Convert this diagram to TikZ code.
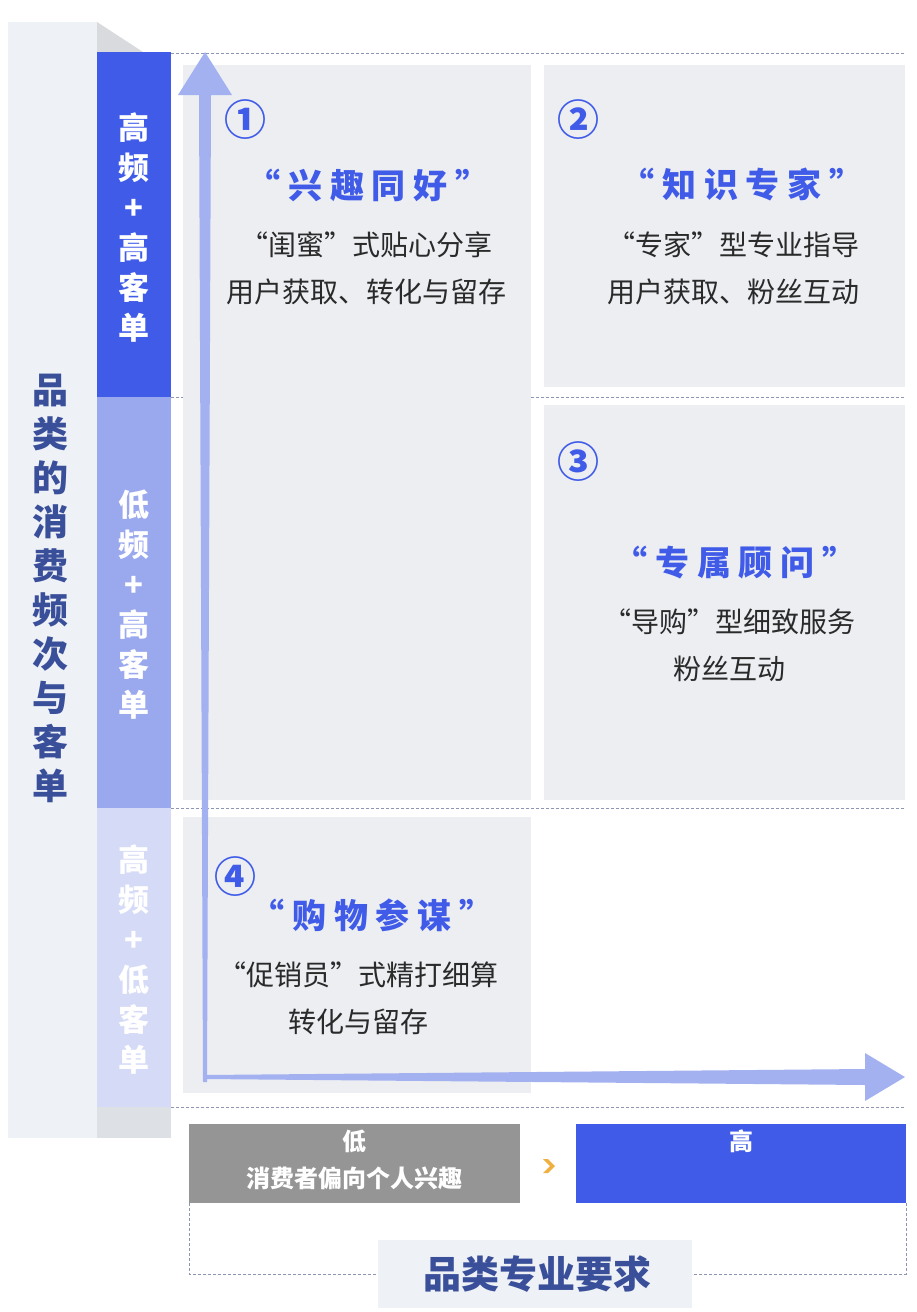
\documentclass[tikz,border=0pt]{standalone}
\usepackage{fontspec}
\setmainfont{Noto Sans CJK SC}
\begin{document}
\begin{tikzpicture}[x=1pt,y=-1pt,
  quad/.style={fill=qgray,draw=none},
  dline/.style={draw=dgray,dash pattern=on 3pt off 2pt,line width=1pt},
  ttl/.style={font=\fontsize{34}{38}\selectfont\bfseries,text=mblue},
  num/.style={font=\fontsize{42}{44}\selectfont\bfseries,text=mblue},
  body/.style={font=\fontsize{28}{47}\selectfont,text=tgray,align=center},
  vtxt/.style={font=\fontsize{31}{40}\selectfont\bfseries,text=white,align=center},
  btxt/.style={font=\fontsize{24}{26}\selectfont\bfseries,text=white}]
\definecolor{qgray}{HTML}{ECEEF2}
\definecolor{lgray}{HTML}{EEF1F6}
\definecolor{dgray}{HTML}{8C96B4}
\definecolor{mblue}{HTML}{3F5BE8}
\definecolor{dblue}{HTML}{3A4F9A}
\definecolor{tgray}{HTML}{2A2A2A}
\definecolor{abl}{HTML}{A3B1F0}
\definecolor{bar2}{HTML}{9AA9EE}
\definecolor{bar3}{HTML}{D5DBF7}
\definecolor{boxg}{HTML}{959595}
\definecolor{orng}{HTML}{F0B040}
\useasboundingbox (0,0) rectangle (917,1312);
% left panel
\fill[lgray] (8,22) rectangle (97,1138);
\fill[lgray!80!gray] (97,22) -- (143,52) -- (97,52) -- cycle;
\fill[lgray!85!gray] (97,1107) rectangle (171,1138);
\node[font=\fontsize{36}{44}\selectfont\bfseries,text=dblue,align=center] (ylab) at (50,588) {品\\类\\的\\消\\费\\频\\次\\与\\客\\单};
% bars
\fill[mblue] (97,52) rectangle (171,397);
\fill[bar2] (97,397) rectangle (171,808);
\fill[bar3] (97,808) rectangle (171,1107);
\node[vtxt] (b1) at (134,228) {高\\频\\+\\高\\客\\单};
\node[vtxt] (b2) at (134,605) {低\\频\\+\\高\\客\\单};
\node[vtxt] (b3) at (134,960) {高\\频\\+\\低\\客\\单};
% dashed lines
\draw[dline] (171,53) -- (905,53);
\draw[dline] (171,397) -- (905,397);
\draw[dline] (171,808) -- (905,808);
\draw[dline] (171,1107) -- (905,1107);
% quadrants
\fill[quad] (183,65) rectangle (531,800);
\fill[quad] (544,65) rectangle (905,387);
\fill[quad] (544,405) rectangle (905,800);
\fill[quad] (183,817) rectangle (531,1093);
% arrows
\fill[abl] (203,1082) -- (199,95) -- (178,95) -- (205,52) -- (232,95) -- (211,95) -- (207,1082) -- cycle;
\fill[abl] (205,1075) -- (865,1069) -- (865,1053) -- (905,1077) -- (865,1101) -- (865,1085) -- (205,1079) -- cycle;
% Q1
\node[num] (n1) at (245,120) {①};
\node[ttl] (t1) at (368,185) {“ 兴 趣 同 好 ”};
\node[body] (d1) at (366,268) {“闺蜜”式贴心分享\\用户获取、转化与留存};
% Q2
\node[num] (n2) at (578,120) {②};
\node[ttl] (t2) at (742,185) {“ 知 识 专 家 ”};
\node[body] (d2) at (733,268) {“专家”型专业指导\\用户获取、粉丝互动};
% Q3
\node[num] (n3) at (578,462) {③};
\node[ttl] (t3) at (735,563) {“ 专 属 顾 问 ”};
\node[body] (d3) at (729,645) {“导购”型细致服务\\粉丝互动};
% Q4
\node[num] (n4) at (235,877) {④};
\node[ttl] (t4) at (372,915) {“ 购 物 参 谋 ”};
\node[body] (d4) at (358,998) {“促销员”式精打细算\\转化与留存};
% bottom
\fill[boxg] (189,1124) rectangle (520,1203);
\node[btxt] (lo1) at (354,1141) {低};
\node[btxt] (lo2) at (354,1178) {消费者偏向个人兴趣};
\fill[orng] (543,1159) -- (548,1159) -- (555,1166) -- (548,1173) -- (543,1173) -- (550,1166) -- cycle;
\fill[mblue] (576,1124) rectangle (906,1203);
\node[btxt] (hi1) at (741,1141) {高};
\draw[dline] (189,1203) -- (189,1274) -- (378,1274);
\draw[dline] (906,1203) -- (906,1274) -- (692,1274);
\fill[lgray] (378,1240) rectangle (692,1308);
\node[font=\fontsize{38}{40}\selectfont\bfseries,text=dblue] (xlab) at (537,1274) {品类专业要求};
\end{tikzpicture}
\end{document}
